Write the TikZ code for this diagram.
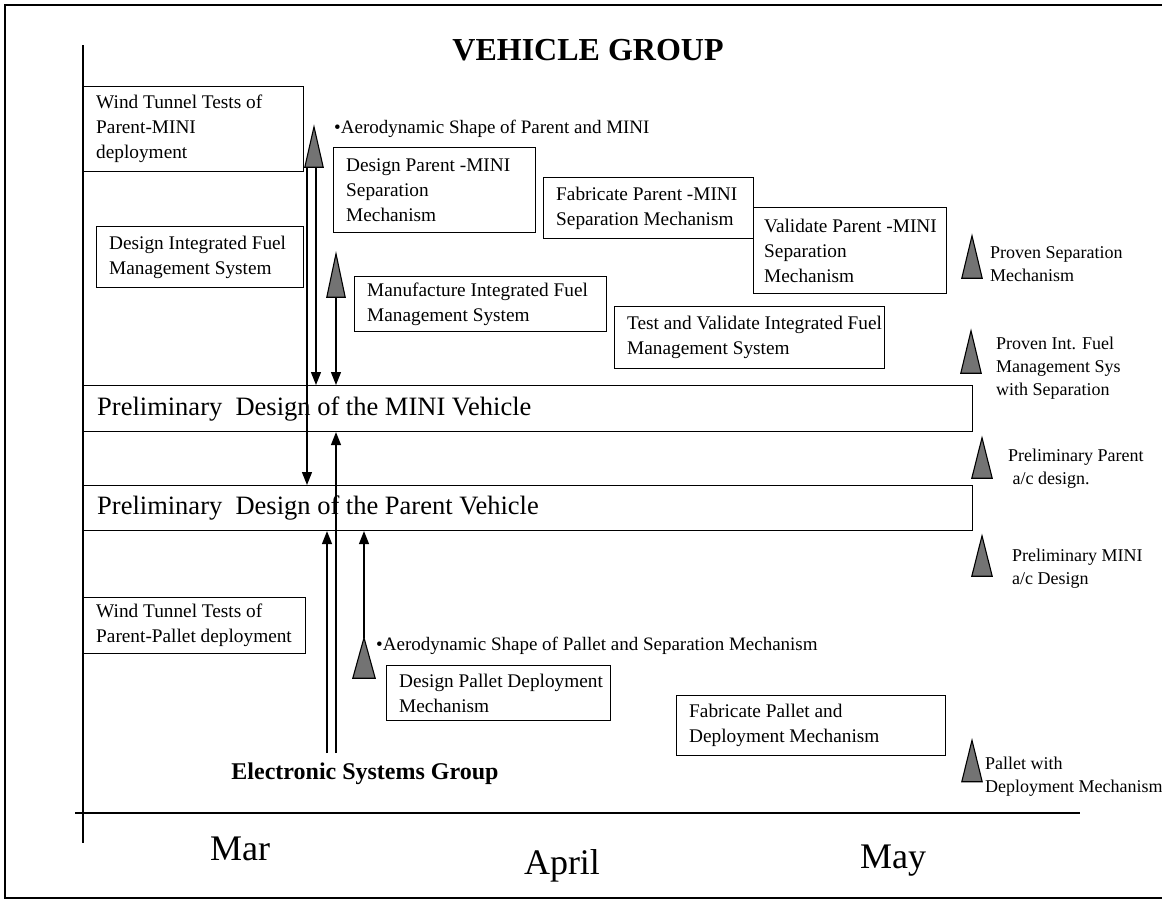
\documentclass[tikz,border=0pt]{standalone}
\usepackage{fontspec}
\setmainfont{Liberation Serif}
\usetikzlibrary{arrows.meta}
\begin{document}
\begin{tikzpicture}[x=1pt,y=-1pt,
  frame/.style={line width=1.3pt},
  axis/.style={line width=1.4pt},
  task/.style={draw, line width=1.1pt, anchor=north west, inner sep=0pt},
  tasktext/.style={anchor=west, inner sep=0pt, xshift=13pt, align=left,
    font=\fontsize{19.3}{25}\selectfont},
  bartext/.style={anchor=west, inner sep=0pt, xshift=14pt,
    font=\fontsize{26.5}{30}\selectfont},
  note/.style={anchor=base west, inner sep=0pt, font=\fontsize{19}{22}\selectfont},
  mstext/.style={anchor=north west, inner sep=0pt, align=left,
    font=\fontsize{18}{23}\selectfont},
  ms/.style={inner sep=0pt, minimum width=18pt, minimum height=40pt},
  msfill/.style={draw, line width=1.1pt, fill=black!55, line join=miter},
  arr/.style={line width=1.3pt, -{Triangle[length=13pt,width=10pt]}},
  month/.style={anchor=base, inner sep=0pt, font=\fontsize{36}{40}\selectfont}
]
\useasboundingbox (0,0) rectangle (1162,902);

% outer frame and time axes
\draw[frame] (1180,5) -- (5,5) -- (5,898) -- (1180,898);
\draw[axis] (83,45) -- (83,843);
\draw[axis] (75,813) -- (1080,813);

% headings
\node[anchor=base, inner sep=0pt, font=\bfseries\fontsize{32}{34}\selectfont] (title) at (588,60) {VEHICLE GROUP};
\node[anchor=base, inner sep=0pt, font=\bfseries\fontsize{24}{28}\selectfont] (esg) at (365,779) {Electronic Systems Group};

% month labels
\node[month] (mar) at (240,860) {Mar};
\node[month] (apr) at (562,874) {April};
\node[month] (may) at (893,868) {May};

% task boxes
\node[task, minimum width=220, minimum height=85] (wtmini) at (83,86) {};
\node[tasktext] at (wtmini.west) {Wind Tunnel Tests of\\Parent-MINI\\deployment};

\node[task, minimum width=202, minimum height=85] (dsep) at (333,147) {};
\node[tasktext] at (dsep.west) {Design Parent -MINI\\Separation\\Mechanism};

\node[task, minimum width=210, minimum height=61] (fsep) at (543,177) {};
\node[tasktext] at (fsep.west) {Fabricate Parent -MINI\\Separation Mechanism};

\node[task, minimum width=193, minimum height=86] (vsep) at (753,207) {};
\node[tasktext, xshift=-2pt] at (vsep.west) {Validate Parent -MINI\\Separation\\Mechanism};

\node[task, minimum width=207, minimum height=61] (dfuel) at (96,226) {};
\node[tasktext] at (dfuel.west) {Design Integrated Fuel\\Management System};

\node[task, minimum width=252, minimum height=55] (mfuel) at (354,276) {};
\node[tasktext] at (mfuel.west) {Manufacture Integrated Fuel\\Management System};

\node[task, minimum width=270, minimum height=62] (tfuel) at (614,306) {};
\node[tasktext] at (tfuel.west) {Test and Validate Integrated Fuel\\Management System};

\node[task, minimum width=222, minimum height=56] (wtpal) at (83,597) {};
\node[tasktext] at (wtpal.west) {Wind Tunnel Tests of\\Parent-Pallet deployment};

\node[task, minimum width=224, minimum height=55] (dpal) at (386,665) {};
\node[tasktext] at (dpal.west) {Design Pallet Deployment\\Mechanism};

\node[task, minimum width=269, minimum height=60] (fpal) at (676,695) {};
\node[tasktext] at (fpal.west) {Fabricate Pallet and\\Deployment Mechanism};

% preliminary design bars
\node[task, minimum width=889, minimum height=46] (mini) at (83,385) {};
\node[bartext] at (mini.west) {Preliminary\ \ Design of the MINI Vehicle};
\node[task, minimum width=889, minimum height=45] (parent) at (83,485) {};
\node[bartext] at (parent.west) {Preliminary\ \ Design of the Parent Vehicle};

% notes
\node[note] (aero1) at (334,133) {\textbullet Aerodynamic Shape of Parent and MINI};
\node[note] (aero2) at (376,650) {\textbullet Aerodynamic Shape of Pallet and Separation Mechanism};

% milestone markers
\node[ms] (t1) at (314,147) {};
\node[ms, minimum height=43pt] (t2) at (336,275.5) {};
\node[ms, minimum width=22pt] (t3) at (364,658) {};
\node[ms, minimum width=20pt, minimum height=42pt] (m1) at (972,257) {};
\node[ms, minimum width=20pt, minimum height=42pt] (m2) at (971,352) {};
\node[ms, minimum width=20pt] (m3) at (982,458) {};
\node[ms, minimum width=20pt] (m4) at (982,556) {};
\node[ms, minimum width=20pt, minimum height=41pt] (m5) at (972,761) {};
\foreach \m in {t1,t2,t3,m1,m2,m3,m4,m5}
  \draw[msfill] (\m.north) -- (\m.south east) -- (\m.south west) -- cycle;

\node[mstext] (m1t) at (990,246) {Proven Separation\\Mechanism};
\node[mstext] (m2t) at (996,337) {Proven Int. Fuel\\Management Sys\\with Separation};
\node[mstext] (m3t) at (1008,449) {Preliminary Parent\\\ a/c design.};
\node[mstext] (m4t) at (1012,549) {Preliminary MINI\\a/c Design};
\node[mstext] (m5t) at (985,757) {Pallet with\\Deployment Mechanism};

% dependency arrows
\draw[arr] ([xshift=-7pt]t1.south) -- ([xshift=-7pt]t1.south |- parent.north);
\draw[arr] ([xshift=2pt]t1.south) -- ([xshift=2pt]t1.south |- mini.north);
\draw[arr] (t2.south) -- (t2.south |- mini.north);
\draw[arr] (t3.north) -- (t3.north |- parent.south);
\coordinate (e1) at (327,753);
\coordinate (e2) at (336,753);
\draw[arr] (e1) -- (e1 |- parent.south);
\draw[arr] (e2) -- (e2 |- mini.south);
\end{tikzpicture}
\end{document}
